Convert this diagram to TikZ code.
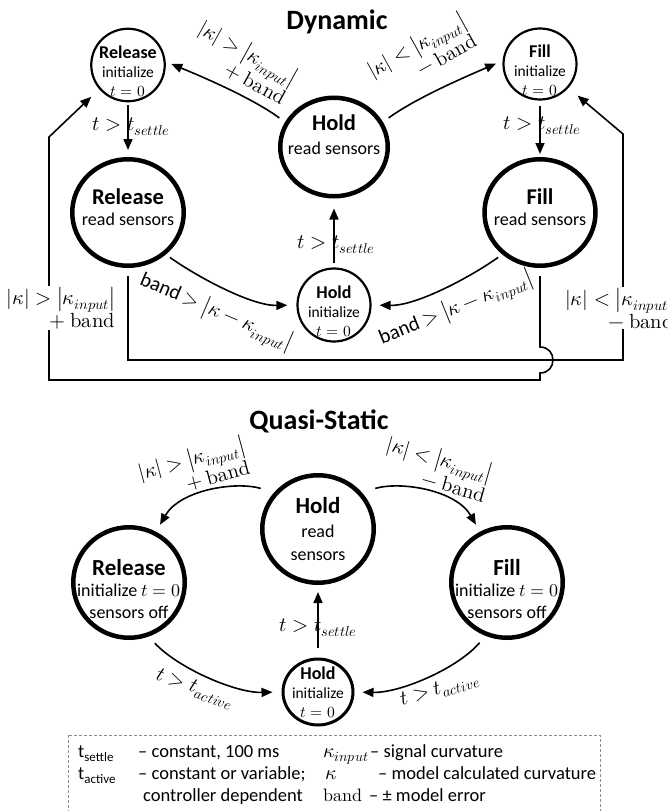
\documentclass[tikz,border=0pt]{standalone}
\usepackage{fontspec}
\usepackage{unicode-math}
\setmainfont{Carlito}
\setmathfont{Latin Modern Math}
\usetikzlibrary{arrows.meta,shapes.geometric}
\newcommand\stname[2]{{\bfseries\fontsize{#1}{#1}\selectfont #2}}
\newcommand\fs[2]{\fontsize{#1}{#2}\selectfont}
\begin{document}
\begin{tikzpicture}[x=1pt,y=-1pt,
  bigst/.style={ellipse, draw, inner sep=0pt, line width=4.5pt},
  smallst/.style={ellipse, draw, inner sep=0pt, line width=2.2pt},
  txt/.style={align=center, inner sep=0pt},
  arr/.style={line width=1.6pt, -{Triangle[length=11pt,width=9pt]}},
  lab/.style={font=\fs{20.5}{21.5}, inner sep=1pt},
  tlab/.style={font=\fs{20.5}{22}, inner sep=1pt},
  ttl/.style={font=\bfseries\fs{28}{30}, anchor=base},
  leg/.style={font=\fs{18.5}{20}, anchor=base west, inner sep=0pt},
  legm/.style={font=\fs{20}{20}, anchor=base west, inner sep=0pt}
]
\useasboundingbox (0,0) rectangle (667,811);

% ---------------- Dynamic ----------------
\node[ttl] (tD) at (337,29) {Dynamic};

\node[smallst, minimum width=73.5pt, minimum height=72.5pt,
  label={[txt, font=\fs{15.5}{19}, yshift=-6pt]center:{\stname{18}{Release}\\initialize\\$t=0$}}] (RelI) at (128,65) {};
\node[smallst, minimum width=73pt, minimum height=71pt,
  label={[txt, font=\fs{15.5}{19}, yshift=-6pt]center:{\stname{18}{Fill}\\initialize\\$t=0$}}] (FillI) at (540,64) {};
\node[bigst, minimum width=107.5pt, minimum height=98.5pt,
  label={[txt, font=\fs{18}{24}, yshift=12pt]center:{\stname{22.5}{Hold}\\read sensors}}] (HoldR) at (334,147) {};
\node[bigst, minimum width=111.5pt, minimum height=106.5pt,
  label={[txt, font=\fs{18}{21}, yshift=5pt]center:{\stname{22.5}{Release}\\read sensors}}] (RelR) at (128,212.5) {};
\node[bigst, minimum width=111pt, minimum height=106.5pt,
  label={[txt, font=\fs{18}{21}, yshift=5pt]center:{\stname{22.5}{Fill}\\read sensors}}] (FillR) at (540,212.5) {};
\node[smallst, minimum width=73pt, minimum height=73pt,
  label={[txt, font=\fs{15.5}{19}, yshift=-6pt]center:{\stname{18}{Hold}\\initialize\\$t=0$}}] (HoldI) at (334,305) {};

% curved transitions from Hold
\draw[arr, shorten <=7pt, shorten >=6pt] (HoldR.153) .. controls (252,98) and (203,77) .. (RelI.5);
\draw[arr, shorten <=7pt, shorten >=7pt] (HoldR.27) .. controls (416,98) and (465,77) .. (FillI.175);
\node[lab, align=right, rotate=-29] (lHR) at (243,62) {$|\kappa|>\left|\kappa_{input}\right|$\\$+\:\symup{band}$};
\node[lab, align=right, rotate=29] (lHF) at (421,54) {$|\kappa|<\left|\kappa_{input}\right|$\\$-\:\symup{band}$};

% vertical settle transitions
\draw[arr, shorten <=3pt, shorten >=7pt] (RelI.south) -- (RelR.north);
\draw[arr, shorten <=5pt, shorten >=3pt] (FillI.south) -- (FillR.north);
\draw[arr, shorten <=4pt, shorten >=10pt] (HoldI.north) -- (HoldR.south);
\node[tlab] (sR) at (131,127) {$t>t_{settle}$};
\node[tlab] (sF) at (542,126) {$t>t_{settle}$};
\node[tlab] (sH) at (336,245) {$t>t_{settle}$};

% back to hold
\draw[arr, shorten <=5pt, shorten >=9pt] (RelR.-48) .. controls (196,276) and (251,306) .. (HoldI.180);
\draw[arr, shorten <=5pt, shorten >=8pt] (FillR.-132) .. controls (472,276) and (417,306) .. (HoldI.0);
\node[lab, rotate=-23] (bR) at (216,312) {band $>\left|\kappa-\kappa_{input}\right|$};
\node[lab, rotate=22] (bF) at (456,309) {band $>\left|\kappa-\kappa_{input}\right|$};

% long connectors
\coordinate (c1) at (128,360);
\coordinate (c2) at (623,360);
\coordinate (c3) at (623,134);
\draw[arr, shorten <=8pt, shorten >=12pt] (RelR.south) -- (c1) -- (c2) -- (c3) -- (FillI.-40);
\coordinate (d1) at (540,347);
\coordinate (d2) at (540,373);
\coordinate (d3) at (540,380);
\coordinate (d4) at (49,380);
\coordinate (d5) at (49,137);
\draw[arr, shorten <=8pt, shorten >=11pt] (FillR.south) -- (d1) .. controls (557.3,347) and (557.3,373) .. (d2) -- (d3) -- (d4) -- (d5) -- (RelI.-140);
\node[lab, align=right, fill=white] (sideL) at (61,308) {$|\kappa|>\left|\kappa_{input}\right|$\\$+\:\symup{band}$};
\node[lab, align=right, fill=white, anchor=west] (sideR) at (564,308) {$|\kappa|<\left|\kappa_{input}\right|$\\$-\:\symup{band}$};

% ---------------- Quasi-Static ----------------
\node[ttl] (tQ) at (319,429) {Quasi-Static};

\node[bigst, minimum width=111.5pt, minimum height=107.5pt,
  label={[txt, font=\fs{18}{23.5}]center:{\stname{23}{Hold}\\read\\sensors}}] (HoldQ) at (318,529) {};
\node[bigst, minimum width=111.5pt, minimum height=110.5pt,
  label={[txt, font=\fs{18}{21.5}, yshift=-6pt]center:{\stname{23}{Release}\\initialize $t=0$\\sensors off}}] (RelQ) at (129,582.5) {};
\node[bigst, minimum width=111.5pt, minimum height=110.5pt,
  label={[txt, font=\fs{18}{21.5}, yshift=-6pt]center:{\stname{23}{Fill}\\initialize $t=0$\\sensors off}}] (FillQ) at (507,582.5) {};
\node[ellipse, draw, inner sep=0pt, line width=3pt, minimum width=70pt, minimum height=66pt,
  label={[txt, font=\fs{15.5}{19}]center:{\stname{18}{Hold}\\initialize\\$t=0$}}] (HoldIQ) at (318,692) {};

\draw[arr, shorten <=14pt, shorten >=8pt] (HoldQ.140) .. controls (235,481) and (180,490) .. (RelQ.62);
\draw[arr, shorten <=14pt, shorten >=8pt] (HoldQ.40) .. controls (401,481) and (456,490) .. (FillQ.118);
\node[lab, align=right, rotate=15] (qlR) at (194,469) {$|\kappa|>\left|\kappa_{input}\right|$\\$+\:\symup{band}$};
\node[lab, align=right, rotate=-16] (qlF) at (437,468) {$|\kappa|<\left|\kappa_{input}\right|$\\$-\:\symup{band}$};

\draw[arr, shorten <=10pt, shorten >=7pt] (HoldIQ.north) -- (HoldQ.south);
\node[tlab] (qs) at (318,628) {$t>t_{settle}$};

\draw[arr, shorten <=9pt, shorten >=9pt] (RelQ.-70) .. controls (178,668) and (235,693) .. (HoldIQ.180);
\draw[arr, shorten <=9pt, shorten >=8pt] (FillQ.-112) .. controls (458,668) and (401,693) .. (HoldIQ.0);
\node[tlab, rotate=-19] (qaR) at (195,689) {$t>t_{active}$};
\node[tlab, rotate=17] (qaF) at (440,690) {$t>t_{active}$};

% ---------------- Legend ----------------
\draw[dash pattern=on 3pt off 2pt, draw=black!45, line width=0.9pt] (68,735) rectangle (600,830);
\node[leg] (g11) at (78,757) {t\textsubscript{settle}};
\node[leg] (g12) at (138,757) {– constant, 100 ms};
\node[legm] (g13) at (323,757) {$\kappa_{input}$};
\node[leg] (g14) at (370,757) {– signal curvature};
\node[leg] (g21) at (78,779) {t\textsubscript{active}};
\node[leg] (g22) at (138,779) {– constant or variable;};
\node[legm] (g23) at (325,779) {$\kappa$};
\node[leg] (g24) at (378,779) {– model calculated curvature};
\node[leg] (g32) at (143,801) {controller dependent};
\node[legm] (g33) at (323,801) {\fs{18}{20}$\symup{band}$};
\node[leg] (g34) at (369,801) {– ± model error};
\end{tikzpicture}
\end{document}
